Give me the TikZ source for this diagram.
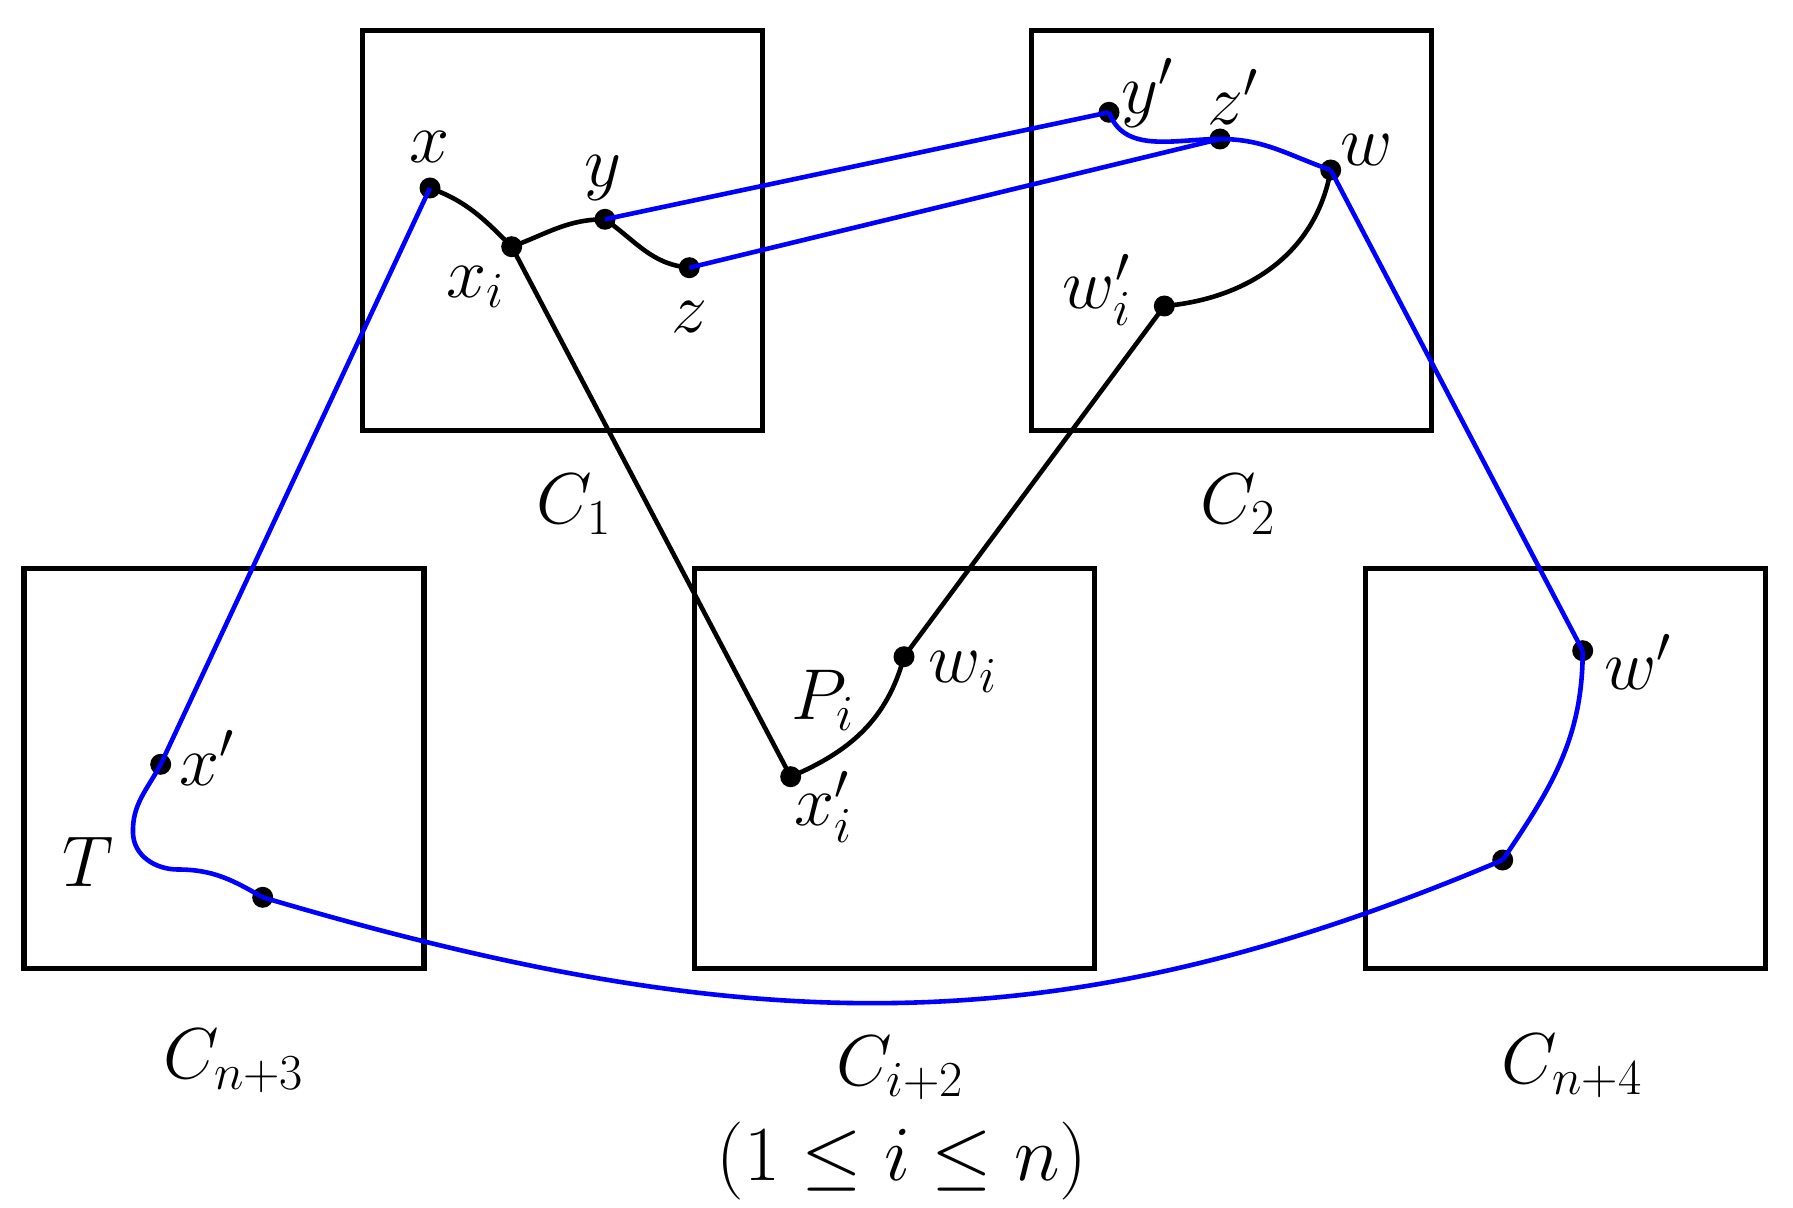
\documentclass[tikz,border=0pt]{standalone}
\usepackage{fix-cm}
\begin{document}
\begin{tikzpicture}[x=0.5pt,y=0.5pt,
  boxst/.style={draw=black, line width=2.7pt, minimum width=200pt, minimum height=200pt, inner sep=0pt},
  dot/.style={circle, fill=black, inner sep=0pt, minimum size=10.5pt},
  lab/.style={inner sep=0pt, font=\fontsize{36}{43}\selectfont},
  bpath/.style={draw=blue, line width=2.3pt},
  kpath/.style={draw=black, line width=2.3pt},
]
\useasboundingbox (0,0) rectangle (1793,-1208);
% boxes
\node[boxst] (C1) at (562.6,-230.5) {};
\node[boxst] (C2) at (1231.7,-230.5) {};
\node[boxst] (Cn3) at (224,-768.4) {};
\node[boxst] (Ci2) at (894.7,-768.4) {};
\node[boxst] (Cn4) at (1565.7,-768.4) {};
% points
\coordinate (x) at (430,-188);
\coordinate (xi) at (511.7,-246.7);
\coordinate (y) at (605,-219.3);
\coordinate (z) at (689.3,-267.7);
\coordinate (yp) at (1109,-112.3);
\coordinate (zp) at (1220,-139);
\coordinate (w) at (1330.7,-170);
\coordinate (wpi) at (1164.3,-306);
\coordinate (wi) at (904,-656.7);
\coordinate (xpi) at (790.7,-776.7);
\coordinate (xp) at (160.7,-764.3);
\coordinate (t) at (262.7,-897.3);
\coordinate (wp) at (1582.7,-650.7);
\coordinate (lr) at (1502.7,-860);
\coordinate (tA) at (133,-833.3);
\coordinate (tB) at (178,-869.5);
% black paths
\draw[kpath] (x) to[out=-20,in=135] (xi) to[out=20,in=180] (y) to[out=-35,in=175] (z);
\draw[kpath] (xi) -- (xpi);
\draw[kpath] (xpi) to[out=23,in=-105] (wi);
\draw[kpath] (wi) -- (wpi);
\draw[kpath] (wpi) to[out=5,in=-100] (w);
% dots
\foreach \p in {x,xi,y,z,yp,zp,w,wpi,wi,xpi,xp,t,wp,lr}
  \node[dot] (d\p) at (\p) {};
% blue paths
\draw[bpath] (y) -- (yp);
\draw[bpath] (z) -- (zp);
\draw[bpath] (x) -- (xp);
\draw[bpath] (xp) to[out=-118,in=92] (tA) to[out=-88,in=180] (tB) to[out=0,in=150] (t);
\draw[bpath] (t) .. controls +(496,-147) and +(-435,-184) .. (lr);
\draw[bpath] (lr) to[out=56,in=-90] (wp);
\draw[bpath] (wp) -- (w);
\draw[bpath] (w) to[out=161,in=0] (zp) to[out=180,in=-70] (yp);
% labels
\node[lab] (lx) at (430,-147) {$x$};
\node[lab] (ly) at (603,-178) {$y$};
\node[lab] (lxi) at (475,-287) {$x_i$};
\node[lab] (lz) at (689,-317) {$z$};
\node[lab] (lyp) at (1147,-93) {$y'$};
\node[lab] (lzp) at (1233,-97) {$z'$};
\node[lab] (lw) at (1367,-150) {$w$};
\node[lab] (lwpi) at (1097,-290) {$w'_i$};
\node[lab] (lC1) at (574,-504) {$C_1$};
\node[lab] (lC2) at (1238,-504) {$C_2$};
\node[lab] (lPi) at (823,-700) {$P_i$};
\node[lab] (lwi) at (963,-672) {$w_i$};
\node[lab] (lxpi) at (823,-807) {$x'_i$};
\node[lab] (lxp) at (207,-758) {$x'$};
\node[lab] (lT) at (88,-862) {$T$};
\node[lab] (lwp) at (1638,-662) {$w'$};
\node[lab] (lCn3) at (234,-1061) {$C_{n+3}$};
\node[lab] (lCi2) at (900,-1068) {$C_{i+2}$};
\node[lab] (lCn4) at (1572,-1066) {$C_{n+4}$};
\node[lab, font=\fontsize{39}{47}\selectfont] (lrange) at (902,-1161) {$(1\le i\le n)$};
\end{tikzpicture}
\end{document}
